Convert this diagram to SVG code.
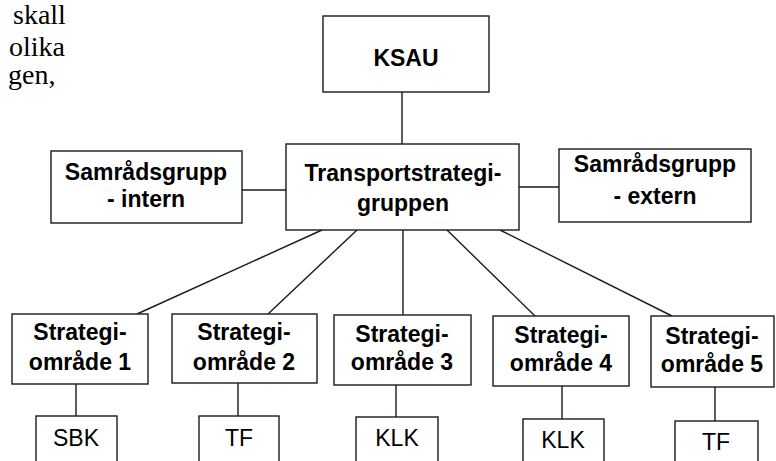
<svg xmlns="http://www.w3.org/2000/svg" width="776" height="461" viewBox="0 0 776 461">
<style>
.box{fill:#fff;stroke:#1a1a1a;stroke-width:1.4}
.ln{stroke:#1a1a1a;stroke-width:1.4;fill:none}
.b{font-family:"Liberation Sans",Arial,sans-serif;font-weight:bold;font-size:23px;fill:#000;text-anchor:middle}
.r{font-family:"Liberation Sans",Arial,sans-serif;font-size:23px;fill:#000;text-anchor:middle}
.doc{font-family:"Liberation Serif","Times New Roman",serif;font-size:28px;fill:#000}
</style>
<rect width="776" height="461" fill="#fff"/>
<g id="doc-text">
<text class="doc" x="13" y="24">skall</text>
<text class="doc" x="9" y="56">olika</text>
<text class="doc" x="8" y="84">gen,</text>
</g>
<g id="connectors">
<line class="ln" x1="402" y1="92" x2="402" y2="144"/>
<line class="ln" x1="242" y1="190" x2="286" y2="190"/>
<line class="ln" x1="519" y1="187" x2="559" y2="187"/>
<line class="ln" x1="322" y1="230" x2="137" y2="314"/>
<line class="ln" x1="357" y1="230" x2="268" y2="314"/>
<line class="ln" x1="403" y1="230" x2="403" y2="315"/>
<line class="ln" x1="447" y1="230" x2="535" y2="316"/>
<line class="ln" x1="500" y1="230" x2="672" y2="316"/>
<line class="ln" x1="76" y1="384" x2="76" y2="416"/>
<line class="ln" x1="238" y1="383" x2="238" y2="416"/>
<line class="ln" x1="396" y1="385" x2="396" y2="417"/>
<line class="ln" x1="562" y1="386" x2="562" y2="419"/>
<line class="ln" x1="715" y1="387" x2="715" y2="421"/>
</g>
<g id="ksau">
<rect class="box" x="323" y="16" width="166" height="76"/>
<text class="b" x="406" y="66">KSAU</text>
</g>
<g id="transport">
<rect class="box" x="286" y="144" width="233" height="86"/>
<text class="b" x="403" y="181">Transportstrategi-</text>
<text class="b" x="403" y="211">gruppen</text>
</g>
<g id="samrad-intern">
<rect class="box" x="51" y="151" width="191" height="72"/>
<text class="b" x="146" y="180">Samrådsgrupp</text>
<text class="b" x="146" y="207">- intern</text>
</g>
<g id="samrad-extern">
<rect class="box" x="559" y="149" width="192" height="73"/>
<text class="b" x="655" y="172">Samrådsgrupp</text>
<text class="b" x="655" y="204">- extern</text>
</g>
<g id="omrade1">
<rect class="box" x="12" y="314" width="136" height="70"/>
<text class="b" x="80" y="340">Strategi-</text>
<text class="b" x="80" y="370">område 1</text>
</g>
<g id="omrade2">
<rect class="box" x="172" y="314" width="145" height="69"/>
<text class="b" x="244" y="340">Strategi-</text>
<text class="b" x="244" y="370">område 2</text>
</g>
<g id="omrade3">
<rect class="box" x="334" y="315" width="137" height="70"/>
<text class="b" x="402" y="342">Strategi-</text>
<text class="b" x="402" y="370">område 3</text>
</g>
<g id="omrade4">
<rect class="box" x="493" y="316" width="136" height="70"/>
<text class="b" x="561" y="343">Strategi-</text>
<text class="b" x="561" y="371">område 4</text>
</g>
<g id="omrade5">
<rect class="box" x="651" y="316" width="123" height="71"/>
<text class="b" x="712" y="344">Strategi-</text>
<text class="b" x="712" y="372">område 5</text>
</g>
<g id="sbk">
<rect class="box" x="36" y="416" width="81" height="60"/>
<text class="r" x="76" y="446">SBK</text>
</g>
<g id="tf1">
<rect class="box" x="199" y="416" width="80" height="60"/>
<text class="r" x="239" y="446">TF</text>
</g>
<g id="klk3">
<rect class="box" x="356" y="417" width="82" height="60"/>
<text class="r" x="397" y="446">KLK</text>
</g>
<g id="klk4">
<rect class="box" x="523" y="419" width="81" height="60"/>
<text class="r" x="563" y="448">KLK</text>
</g>
<g id="tf5">
<rect class="box" x="675" y="421" width="83" height="60"/>
<text class="r" x="716" y="450">TF</text>
</g>
</svg>
